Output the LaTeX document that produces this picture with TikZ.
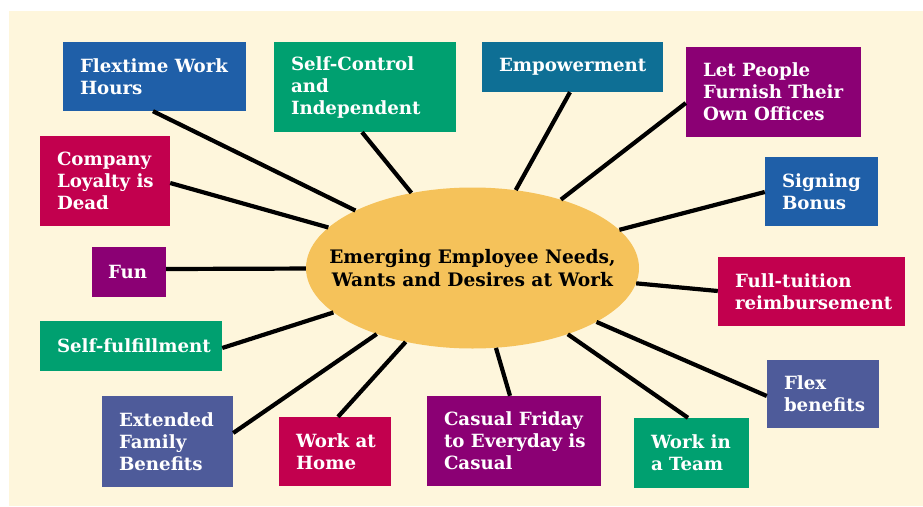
\documentclass[tikz,border=0pt]{standalone}
\usepackage{fontspec}
\setmainfont{DejaVu Serif}
\usetikzlibrary{shapes.geometric}
\definecolor{bgcream}{HTML}{FEF6DC}
\definecolor{cblue}{HTML}{1F5FA8}
\definecolor{cgreen}{HTML}{00A070}
\definecolor{cteal}{HTML}{0E6F95}
\definecolor{cpurple}{HTML}{8B0074}
\definecolor{ccrimson}{HTML}{C2004E}
\definecolor{cslate}{HTML}{4E5B9A}
\definecolor{cgold}{HTML}{F5C25A}
\tikzset{
  box/.style={rectangle, inner sep=0pt},
  lbl/.style={inner sep=0pt, anchor=west, text=white, align=left,
    font=\fontsize{18.2}{22}\selectfont\bfseries},
  link/.style={line width=4.2pt, black},
  hub/.style={ellipse, fill=cgold, inner sep=0pt, minimum width=333pt, minimum height=161pt},
  hubtext/.style={align=center, font=\fontsize{18.6}{23}\selectfont\bfseries, text=black}
}
\begin{document}
\begin{tikzpicture}[x=1pt,y=-1pt]
\useasboundingbox (0,0) rectangle (923,506);
\fill[bgcream] (9,11) rectangle (923,506);

\node[hub] (e) at (472.5,268) {};

\node[box, fill=cblue, minimum width=183pt, minimum height=69pt] (b1) at (154.5,76.5) {};
\node[box, fill=cgreen, minimum width=182pt, minimum height=90pt] (b2) at (365,87) {};
\node[box, fill=cteal, minimum width=181pt, minimum height=50pt] (b3) at (572.5,67) {};
\node[box, fill=cpurple, minimum width=175pt, minimum height=90pt] (b4) at (773.5,92) {};
\node[box, fill=cblue, minimum width=113pt, minimum height=69pt] (b5) at (821.5,191.5) {};
\node[box, fill=ccrimson, minimum width=187pt, minimum height=69pt] (b6) at (811.5,291.5) {};
\node[box, fill=cslate, minimum width=112pt, minimum height=68pt] (b7) at (823,394) {};
\node[box, fill=cgreen, minimum width=115pt, minimum height=70pt] (b8) at (691.5,453) {};
\node[box, fill=cpurple, minimum width=174pt, minimum height=90pt] (b9) at (514,441) {};
\node[box, fill=ccrimson, minimum width=112pt, minimum height=69pt] (b10) at (335,451.5) {};
\node[box, fill=cslate, minimum width=131pt, minimum height=91pt] (b11) at (167.5,441.5) {};
\node[box, fill=cgreen, minimum width=182pt, minimum height=50pt] (b12) at (131,346) {};
\node[box, fill=cpurple, minimum width=74pt, minimum height=50pt] (b13) at (129,272) {};
\node[box, fill=ccrimson, minimum width=130pt, minimum height=90pt] (b14) at (105,181) {};

\node[lbl] (t1) at ([xshift=17pt]b1.west) {Flextime Work\\Hours};
\node[lbl] (t2) at ([xshift=17pt]b2.west) {Self-Control\\and\\Independent};
\node[lbl] (t3) at ([xshift=17pt]b3.west) {Empowerment};
\node[lbl] (t4) at ([xshift=17pt]b4.west) {Let People\\Furnish Their\\Own Offices};
\node[lbl] (t5) at ([xshift=17pt]b5.west) {Signing\\Bonus};
\node[lbl] (t6) at ([xshift=17pt]b6.west) {Full-tuition\\reimbursement};
\node[lbl] (t7) at ([xshift=17pt]b7.west) {Flex\\benefits};
\node[lbl] (t8) at ([xshift=17pt]b8.west) {Work in\\a Team};
\node[lbl] (t9) at ([xshift=17pt]b9.west) {Casual Friday\\to Everyday is\\Casual};
\node[lbl] (t10) at ([xshift=17pt]b10.west) {Work at\\Home};
\node[lbl] (t11) at ([xshift=17pt]b11.west) {Extended\\Family\\Benefits};
\node[lbl] (t12) at ([xshift=17pt]b12.west) {Self-fulfillment};
\node[lbl] (t13) at ([xshift=16pt]b13.west) {Fun};
\node[lbl] (t14) at ([xshift=17pt]b14.west) {Company\\Loyalty is\\Dead};

\draw[link] (b1.south -| 153,0) -- (e);
\draw[link] (b2.south -| 362,0) -- (e);
\draw[link] (b3.south -| 570,0) -- (e);
\draw[link] (b4.west |- 0,103) -- (e);
\draw[link] (b5.west |- 0,192) -- (e);
\draw[link] (b6.west |- 0,291) -- (e);
\draw[link] (b7.west |- 0,396) -- (e);
\draw[link] (b8.north -| 688,0) -- (e);
\draw[link] (b9.north -| 510,0) -- (e);
\draw[link] (b10.north -| 338,0) -- (e);
\draw[link] (b11.east |- 0,433) -- (e);
\draw[link] (b12.east |- 0,348) -- (e);
\draw[link] (b13.east |- 0,269) -- (e);
\draw[link] (b14.east |- 0,183) -- (e);

\node[hubtext] (et) at (472.5,268) {Emerging Employee Needs,\\Wants and Desires at Work};
\end{tikzpicture}
\end{document}
